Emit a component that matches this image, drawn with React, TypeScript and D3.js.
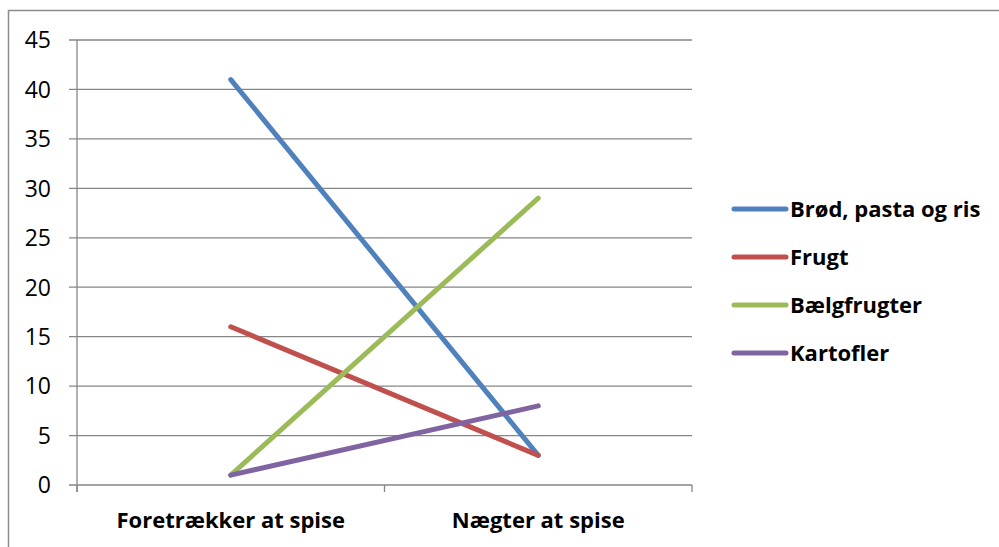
import React from "react";
import * as d3 from "d3";

const categories = ["Foretrækker at spise", "Nægter at spise"];
const seriesNames = ["Brød, pasta og ris", "Frugt", "Bælgfrugter", "Kartofler"];
const brod = [41, 3];
const frugt = [16, 3];
const baelg = [1, 29];
const kartofler = [1, 8];
const yTicks = [0, 5, 10, 15, 20, 25, 30, 35, 40, 45];
const colors = ["#4F81BD", "#C0504D", "#9BBB59", "#8064A2"];

const W = 999, H = 547;
const left = 77, right = 692, top = 40, bottom = 485;

export default function App() {
  const x = d3.scaleBand<string>().domain(categories).range([left, right]).padding(0);
  const y = d3.scaleLinear().domain([0, 45]).range([bottom, top]);
  const series = [brod, frugt, baelg, kartofler];
  const line = d3.line<number>().x((_, i) => (x(categories[i]) as number) + x.bandwidth() / 2).y((d) => y(d));
  const font = "'Open Sans', Lato, sans-serif";
  const grid = "#868686";
  return (
    <svg width={W} height={H} style={{ position: "absolute", left: 0, top: 0 }}>
      <rect x={0} y={0} width={W} height={H} fill="#fff" />
      <rect x={8.5} y={10.5} width={W + 10} height={H + 10} fill="none" stroke="#8c8c8c" strokeWidth={1.5} />
      {yTicks.map((t) => (
        <g key={t}>
          <line x1={left - 8} x2={right} y1={y(t)} y2={y(t)} stroke={grid} strokeWidth={1.3} />
          <text x={51} y={y(t)} dy="0.36em" textAnchor="end" fontFamily={font} fontSize={23} fill="#000">{t}</text>
        </g>
      ))}
      <line x1={left} x2={left} y1={top} y2={bottom + 7} stroke={grid} strokeWidth={1.3} />
      {[0, 1, 2].map((i) => {
        const xx = left + i * x.bandwidth();
        return <line key={i} x1={xx} x2={xx} y1={bottom} y2={bottom + 7} stroke={grid} strokeWidth={1.3} />;
      })}
      {categories.map((c) => (
        <text key={c} x={(x(c) as number) + x.bandwidth() / 2} y={528} textAnchor="middle" fontFamily={font} fontWeight="bold" fontSize={22} fill="#000">{c}</text>
      ))}
      {series.map((s, i) => (
        <path key={i} d={line(s) || ""} fill="none" stroke={colors[i]} strokeWidth={5} strokeLinecap="round" strokeLinejoin="round" />
      ))}
      {seriesNames.map((n, i) => {
        const ly = 209 + i * 48;
        return (
          <g key={n}>
            <line x1={734} x2={786} y1={ly} y2={ly} stroke={colors[i]} strokeWidth={5} strokeLinecap="round" />
            <text x={790} y={ly} dy="0.36em" fontFamily={font} fontWeight="bold" fontSize={22} fill="#000">{n}</text>
          </g>
        );
      })}
    </svg>
  );
}
